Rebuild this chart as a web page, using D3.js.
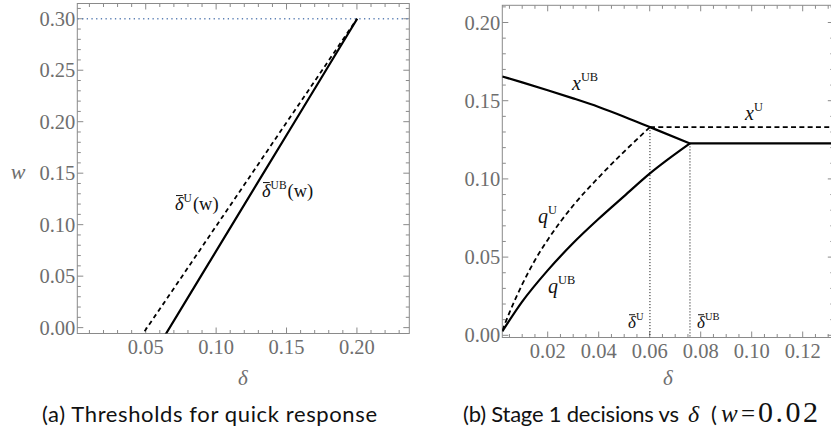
<!DOCTYPE html>
<html>
<head>
<meta charset="utf-8">
<script src="https://cdn.jsdelivr.net/npm/d3@7"></script>
<style>
  body { margin: 0; background: #fff; }
  svg { display: block; }
</style>
</head>
<body>
<svg id="chart" width="831" height="434"></svg>
<script>
// ---- Panel (a): thresholds in the (delta, w) plane ----
const wGrid        = [-0.01, 0.05, 0.10, 0.15, 0.20, 0.25, 0.30];
const thresholdU   = [0.0460, 0.0759, 0.1007, 0.1256, 0.1504, 0.1753, 0.2001];
const thresholdUB  = [0.0626, 0.0892, 0.1114, 0.1336, 0.1558, 0.1780, 0.2002];
const wCap         = 0.30;
const aXTicks      = [0.05, 0.10, 0.15, 0.20];
const aYTicks      = [0.00, 0.05, 0.10, 0.15, 0.20, 0.25, 0.30];

// ---- Panel (b): stage 1 decisions against delta ----
const xUBDelta = [0.0022, 0.01, 0.02, 0.03, 0.04, 0.05, 0.0601, 0.0758, 0.1330];
const xUBValue = [0.1655, 0.1617, 0.1567, 0.1515, 0.1460, 0.1398, 0.1331, 0.1227, 0.1227];
const xUDelta  = [0.0601, 0.1330];
const xUValue  = [0.1331, 0.1331];
const qUDelta  = [0.0022, 0.005, 0.01, 0.015, 0.02, 0.03, 0.04, 0.05, 0.0601];
const qUValue  = [0.0030, 0.0145, 0.0325, 0.0480, 0.0610, 0.0830, 0.1010, 0.1175, 0.1331];
const qUBDelta = [0.0022, 0.01, 0.02, 0.03, 0.04, 0.05, 0.0601, 0.0758];
const qUBValue = [0.0025, 0.0215, 0.0415, 0.0590, 0.0745, 0.0890, 0.1035, 0.1227];
const cutU  = { delta: 0.0601, value: 0.1331 };
const cutUB = { delta: 0.0758, value: 0.1227 };
const bXTicks = [0.02, 0.04, 0.06, 0.08, 0.10, 0.12];
const bYTicks = [0.00, 0.05, 0.10, 0.15, 0.20];

const svg = d3.select("#chart");
const serif = "'Liberation Serif', 'DejaVu Serif', serif";
const sans  = "Lato, 'DejaVu Sans', sans-serif";
const frameColor = "#8a8a8a";
const tickText = "#6e6e6e";

const zip = (xs, ys) => xs.map((x, i) => [x, ys[i]]);

function frame(g, x, y, xMajor, xMinor, yMajor, yMinor, fmt) {
  const [x0, x1] = x.range(), [y0, y1] = y.range();
  const clipId = "clip" + Math.round(x0);
  g.append("clipPath").attr("id", clipId)
    .append("rect").attr("x", x0).attr("y", y1).attr("width", x1 - x0).attr("height", y0 - y1);
  const ticks = g.append("g").attr("stroke", frameColor).attr("stroke-width", 1);
  const L = 6, l = 3.5;
  xMinor.forEach(v => {
    const px = x(v);
    if (px < x0 + 0.5 || px > x1 - 0.5) return;
    const len = xMajor.some(m => Math.abs(m - v) < 1e-9) ? L : l;
    ticks.append("line").attr("x1", px).attr("x2", px).attr("y1", y0).attr("y2", y0 - len);
    ticks.append("line").attr("x1", px).attr("x2", px).attr("y1", y1).attr("y2", y1 + len);
  });
  yMinor.forEach(v => {
    const py = y(v);
    if (py > y0 - 0.5 || py < y1 + 0.5) return;
    const len = yMajor.some(m => Math.abs(m - v) < 1e-9) ? L : l;
    ticks.append("line").attr("x1", x0).attr("x2", x0 + len).attr("y1", py).attr("y2", py);
    ticks.append("line").attr("x1", x1).attr("x2", x1 - len).attr("y1", py).attr("y2", py);
  });
  g.append("rect").attr("x", x0).attr("y", y1).attr("width", x1 - x0).attr("height", y0 - y1)
    .attr("fill", "none").attr("stroke", frameColor).attr("stroke-width", 1);
  const lab = g.append("g").attr("font-family", serif).attr("font-size", 20.5).attr("fill", tickText);
  xMajor.forEach(v => lab.append("text").attr("x", x(v)).attr("y", y0 + 20.5)
    .attr("text-anchor", "middle").text(fmt(v)));
  yMajor.forEach(v => lab.append("text").attr("x", x0 - 2).attr("y", y(v) + 7)
    .attr("text-anchor", "end").text(fmt(v)));
  return clipId;
}

// label like  δ̄^U(w)  or  x^UB
function mathLabel(g, x, y, base, sup, tail, opt = {}) {
  const size = opt.size || 18;
  const t = g.append("text").attr("x", x).attr("y", y)
    .attr("font-family", serif).attr("font-size", size).attr("fill", "#111");
  t.append("tspan").attr("font-style", "italic").text(base);
  t.append("tspan").attr("font-size", size * 0.62).attr("dy", -size * 0.45).text(sup);
  if (tail) t.append("tspan").attr("dy", size * 0.45).attr("dx", 1).text(tail);
  if (opt.bar) {
    g.append("line").attr("x1", x + 1).attr("x2", x + size * 0.42)
      .attr("y1", y - size * 0.78).attr("y2", y - size * 0.78)
      .attr("stroke", "#111").attr("stroke-width", 1);
  }
}

const fmt2 = d3.format(".2f");

// ===== Panel (a) =====
{
  const x = d3.scaleLinear().domain([0.0014, 0.2372]).range([77.3, 409.3]);
  const y = d3.scaleLinear().domain([-0.0057, 0.3148]).range([333.5, 3.5]);
  const g = svg.append("g");
  const clip = frame(g, x, y, aXTicks, d3.range(0.01, 0.2301, 0.01).map(v => +v.toFixed(3)),
                     aYTicks, d3.range(-0.0, 0.3101, 0.01).map(v => +v.toFixed(3)), fmt2);
  const plot = g.append("g").attr("clip-path", `url(#${clip})`);
  const line = d3.line().x(d => x(d[1])).y(d => y(d[0]));
  plot.append("line").attr("x1", x.range()[0]).attr("x2", x.range()[1])
    .attr("y1", y(wCap)).attr("y2", y(wCap))
    .attr("stroke", "#5e81b5").attr("stroke-width", 1.3).attr("stroke-dasharray", "1.3,3.4");
  plot.append("path").attr("d", line(zip(wGrid, thresholdU)))
    .attr("fill", "none").attr("stroke", "#000").attr("stroke-width", 1.8).attr("stroke-dasharray", "4.5,3.5");
  plot.append("path").attr("d", line(zip(wGrid, thresholdUB)))
    .attr("fill", "none").attr("stroke", "#000").attr("stroke-width", 2.2);

  mathLabel(g, 175, 210, "δ", "U", "(w)", { bar: true, size: 18.5 });
  mathLabel(g, 262, 197, "δ", "UB", "(w)", { bar: true, size: 18.5 });

  g.append("text").attr("x", 18).attr("y", 179).attr("text-anchor", "middle")
    .attr("font-family", serif).attr("font-style", "italic").attr("font-size", 22).attr("fill", tickText).text("w");
  g.append("text").attr("x", 243).attr("y", 385).attr("text-anchor", "middle")
    .attr("font-family", serif).attr("font-style", "italic").attr("font-size", 21).attr("fill", tickText).text("δ");

  g.append("text").attr("x", 42).attr("y", 422).attr("font-family", sans).attr("font-size", 22)
    .attr("fill", "#111").attr("textLength", 335).attr("lengthAdjust", "spacing")
    .text("(a) Thresholds for quick response");
}

// ===== Panel (b) =====
{
  const x = d3.scaleLinear().domain([0.0022, 0.1322]).range([502.3, 833.8]);
  const y = d3.scaleLinear().domain([-0.0014, 0.2110]).range([337.5, 5.3]);
  const g = svg.append("g");
  const clip = frame(g, x, y, bXTicks, d3.range(0.005, 0.1301, 0.005).map(v => +v.toFixed(4)),
                     bYTicks, d3.range(0, 0.2101, 0.01).map(v => +v.toFixed(3)), fmt2);
  const plot = g.append("g").attr("clip-path", `url(#${clip})`);
  const line = d3.line().x(d => x(d[0])).y(d => y(d[1])).curve(d3.curveMonotoneX);

  [cutU, cutUB].forEach(c => plot.append("line")
    .attr("x1", x(c.delta)).attr("x2", x(c.delta)).attr("y1", y(c.value)).attr("y2", y.range()[0])
    .attr("stroke", "#000").attr("stroke-width", 1).attr("stroke-dasharray", "1,2"));

  plot.append("path").attr("d", line(zip(xUDelta, xUValue)))
    .attr("fill", "none").attr("stroke", "#000").attr("stroke-width", 1.8).attr("stroke-dasharray", "5,3.3");
  plot.append("path").attr("d", line(zip(qUDelta, qUValue)))
    .attr("fill", "none").attr("stroke", "#000").attr("stroke-width", 1.8).attr("stroke-dasharray", "5,3.3");
  plot.append("path").attr("d", line(zip(xUBDelta.slice(0, 7), xUBValue.slice(0, 7)))
    + d3.line().x(d => x(d[0])).y(d => y(d[1]))(zip(xUBDelta.slice(6), xUBValue.slice(6))).replace(/^M/, "L"))
    .attr("fill", "none").attr("stroke", "#000").attr("stroke-width", 2.2).attr("stroke-linejoin", "round");
  plot.append("path").attr("d", line(zip(qUBDelta, qUBValue)))
    .attr("fill", "none").attr("stroke", "#000").attr("stroke-width", 2.2);

  mathLabel(g, 572, 90, "x", "UB", null, { size: 20 });
  mathLabel(g, 745, 120, "x", "U", null, { size: 20 });
  mathLabel(g, 538, 223, "q", "U", null, { size: 20 });
  mathLabel(g, 548, 293, "q", "UB", null, { size: 20 });
  mathLabel(g, 628, 328, "δ", "U", null, { bar: true, size: 17 });
  mathLabel(g, 697, 328, "δ", "UB", null, { bar: true, size: 17 });

  g.append("text").attr("x", 668).attr("y", 385).attr("text-anchor", "middle")
    .attr("font-family", serif).attr("font-style", "italic").attr("font-size", 21).attr("fill", tickText).text("δ");

  // caption pieces: sans words, serif math
  const capY = 422;
  g.append("text").attr("x", 463).attr("y", capY).attr("font-family", sans).attr("font-size", 22)
    .attr("fill", "#111").attr("textLength", 216).attr("lengthAdjust", "spacing")
    .text("(b) Stage 1 decisions vs");
  g.append("text").attr("x", 688).attr("y", capY).attr("font-family", serif).attr("font-style", "italic")
    .attr("font-size", 24).attr("fill", "#111").text("δ");
  g.append("text").attr("x", 711).attr("y", capY).attr("font-family", sans).attr("font-size", 22)
    .attr("fill", "#111").text("(");
  g.append("text").attr("x", 721).attr("y", capY).attr("font-family", serif).attr("font-style", "italic")
    .attr("font-size", 25).attr("fill", "#111").text("w");
  g.append("text").attr("x", 741).attr("y", capY).attr("font-family", serif)
    .attr("font-size", 25).attr("fill", "#111").text("=");
  g.append("text").attr("x", 758).attr("y", capY).attr("font-family", serif)
    .attr("font-size", 30).attr("letter-spacing", 2.5).attr("fill", "#111")
    .text("0.02");
}
</script>
</body>
</html>
